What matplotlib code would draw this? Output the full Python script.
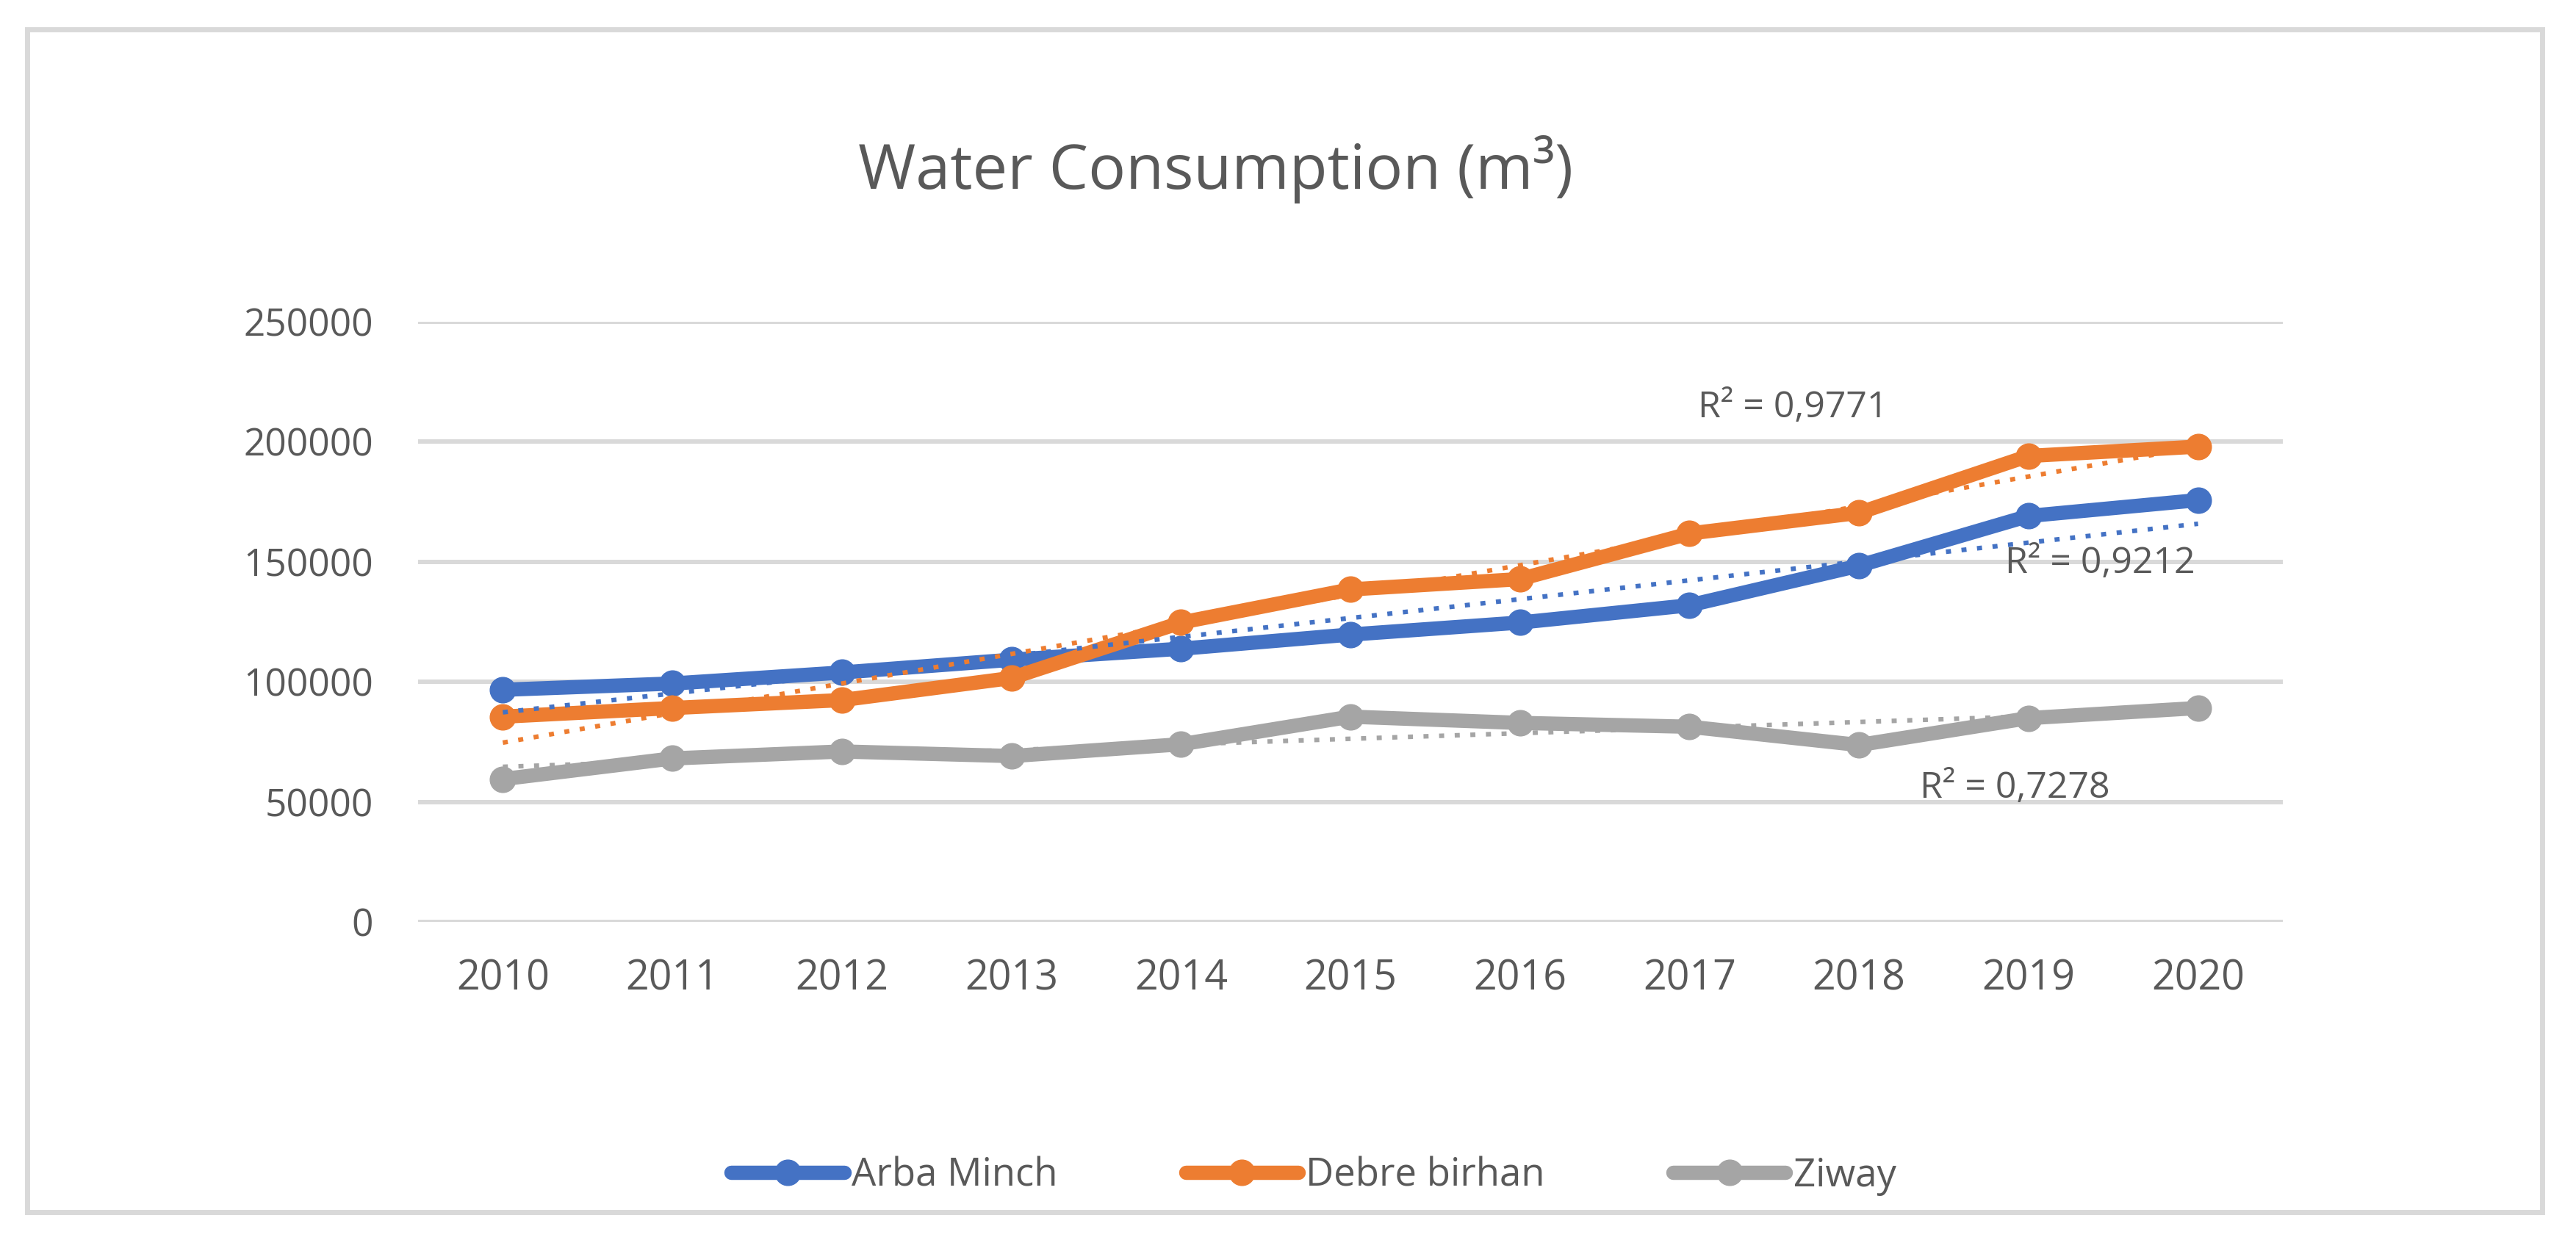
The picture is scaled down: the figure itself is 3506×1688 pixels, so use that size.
import numpy as np
import matplotlib
matplotlib.use("Agg")
import matplotlib.pyplot as plt
from matplotlib.patches import Rectangle

plt.rcParams['font.family'] = ['Open Sans', 'DejaVu Sans']

years = ['2010', '2011', '2012', '2013', '2014', '2015', '2016', '2017', '2018', '2019', '2020']
arba_minch = [96700, 99300, 103900, 109200, 113800, 119700, 124700, 131900, 148400, 169100, 175700]
debre_birhan = [85500, 89100, 92400, 101600, 124700, 138500, 142800, 161800, 170400, 194100, 198000]
ziway = [59500, 68100, 71000, 69100, 74000, 85500, 82900, 81300, 73700, 84900, 89100]
series_names = ['Arba Minch', 'Debre birhan', 'Ziway']
r2_labels = ['R² = 0,9212', 'R² = 0,9771', 'R² = 0,7278']
yticks = [0, 50000, 100000, 150000, 200000, 250000]
title = 'Water Consumption (m³)'

colors = ['#4472C4', '#ED7D31', '#A5A5A5']
text_col = '#595959'

fig = plt.figure(figsize=(35.06, 16.88), dpi=100)
ax = fig.add_axes([569/3506, 433/1688, (3107-569)/3506, (1255-438)/1688])

x = np.arange(len(years))
all_series = [arba_minch, debre_birhan, ziway]
for vals, name, c in zip(all_series, series_names, colors):
    ax.plot(x, vals, color=c, lw=14, marker='o', markersize=25,
            solid_capstyle='round', solid_joinstyle='round', label=name, zorder=3)
for vals, c in zip(all_series, colors):
    coef = np.polyfit(x, vals, 1)
    ax.plot(x, np.polyval(coef, x), color=c, lw=4.5, linestyle=(0, (1.1, 2.3)),
            zorder=4)

# R² labels (positions in data coords)
label_pos = [(9.42, 149300), (7.61, 214200), (8.92, 55700)]
for (lx, ly), t in zip(label_pos, r2_labels):
    ax.text(lx, ly, t, fontsize=36, color=text_col, ha='center', va='center', zorder=5)

ax.set_xlim(-0.5, len(years) - 0.5)
ax.set_ylim(0, 250000)
ax.set_xticks(x)
ax.set_xticklabels(years)
ax.set_yticks(yticks)
ax.set_yticklabels([str(v) for v in yticks])
ax.tick_params(axis='x', length=0, pad=36, labelsize=40, labelcolor=text_col)
ax.tick_params(axis='y', length=0, pad=44, labelsize=37, labelcolor=text_col)
ax.grid(axis='y', color='#D9D9D9', lw=4.3, zorder=0)
ax.set_axisbelow(True)
for s in ax.spines.values():
    s.set_visible(False)

fig.text(1655/3506, 1 - 257/1688, title, fontsize=61, color=text_col,
         ha='center', va='baseline')

leg = fig.legend(loc='center', bbox_to_anchor=(1788/3506, 1 - 1601/1688), ncol=3,
                 frameon=False, fontsize=38, handlelength=2.9, handletextpad=0.2,
                 columnspacing=3.3, labelcolor=text_col)

fig.add_artist(Rectangle((37/3506, 1 - 1650/1688), (3460-37)/3506, (1650-40)/1688,
                         transform=fig.transFigure, fill=False,
                         edgecolor='#D9D9D9', lw=5))

fig.savefig('out.png', dpi=100, facecolor='white')
